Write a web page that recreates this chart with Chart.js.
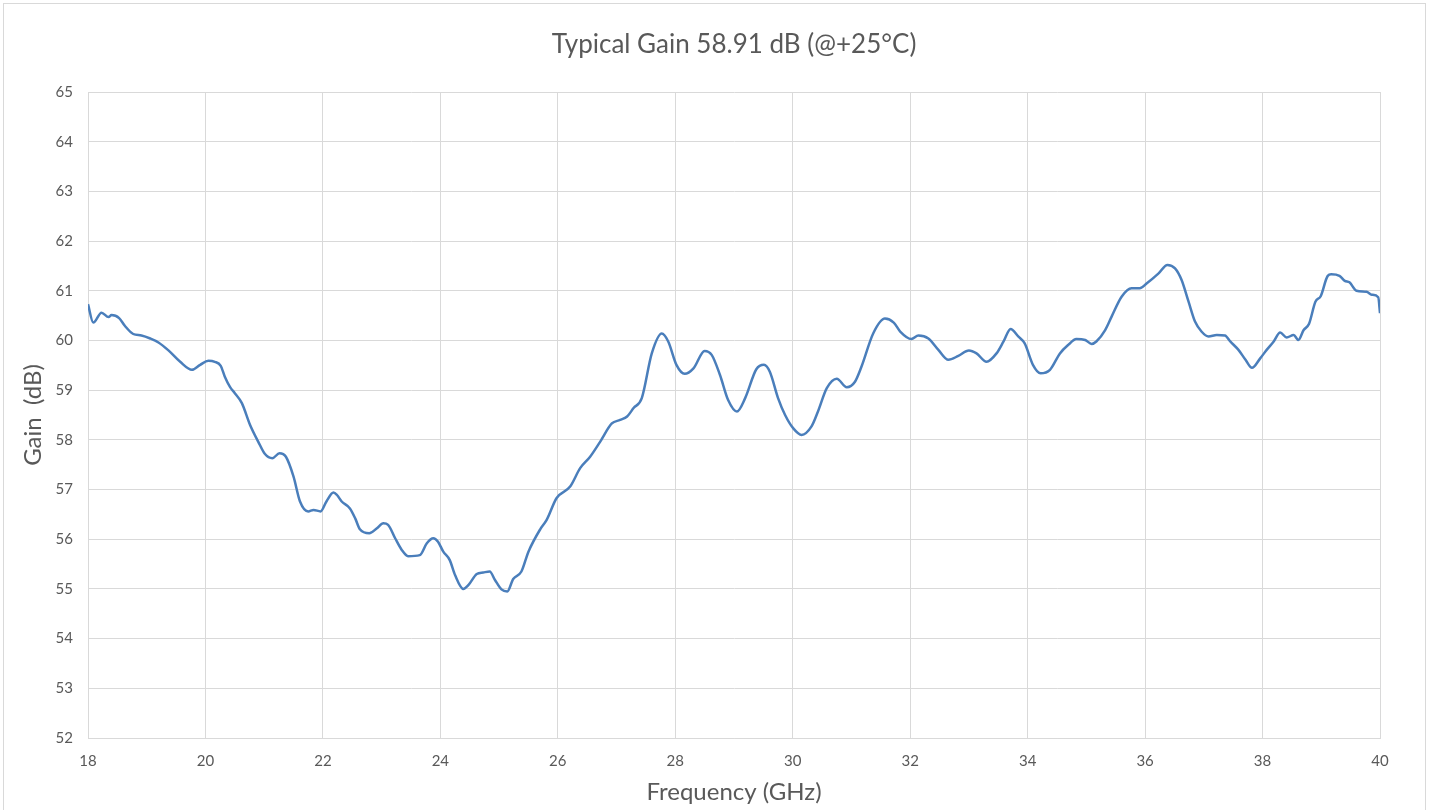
<!DOCTYPE html>
<html>
<head>
<meta charset="utf-8">
<script src="https://cdn.jsdelivr.net/npm/chart.js@4"></script>
<style>
  html, body { margin: 0; padding: 0; background: #fff; overflow: hidden; }
  #frame { position: absolute; left: 3px; top: 3px; width: 1423px; height: 820px; border: 1px solid #d9d9d9; box-sizing: border-box; }
  #wrap { position: absolute; left: 0; top: 0; width: 1434px; height: 810px; }
</style>
</head>
<body>
<div id="frame"></div>
<div id="wrap"><canvas id="c" width="1434" height="810"></canvas></div>
<script>
const titleText = 'Typical Gain 58.91 dB (@+25°C)';
const xTitle = 'Frequency (GHz)';
const yTitle = 'Gain  (dB)';

const freqs = [18.00,18.09,18.23,18.35,18.40,18.53,18.63,18.77,18.91,19.06,19.20,19.37,19.57,19.77,19.91,20.05,20.16,20.26,20.33,20.42,20.50,20.62,20.76,20.90,21.01,21.14,21.26,21.37,21.50,21.61,21.75,21.84,21.96,22.06,22.18,22.24,22.32,22.46,22.55,22.63,22.79,22.92,23.03,23.11,23.23,23.34,23.45,23.65,23.77,23.88,23.96,24.05,24.16,24.25,24.39,24.48,24.62,24.73,24.84,24.93,25.04,25.14,25.24,25.38,25.50,25.70,25.81,25.98,26.21,26.38,26.55,26.72,26.92,27.06,27.18,27.29,27.43,27.60,27.77,27.88,28.02,28.16,28.31,28.50,28.62,28.76,28.90,29.05,29.19,29.38,29.51,29.61,29.75,29.87,30.01,30.15,30.32,30.43,30.58,30.75,30.92,31.06,31.17,31.37,31.57,31.72,31.83,32.02,32.14,32.31,32.48,32.65,32.82,33.00,33.13,33.30,33.47,33.59,33.71,33.84,33.95,34.09,34.22,34.38,34.55,34.69,34.83,34.98,35.09,35.17,35.32,35.43,35.60,35.77,35.91,36.03,36.23,36.38,36.51,36.62,36.74,36.85,36.96,37.08,37.22,37.36,37.45,37.59,37.71,37.82,37.96,38.07,38.19,38.30,38.41,38.53,38.61,38.70,38.79,38.90,38.99,39.11,39.17,39.31,39.40,39.48,39.60,39.77,39.86,39.97,40.00];
const gains = [60.73,60.36,60.56,60.47,60.51,60.45,60.29,60.13,60.10,60.04,59.96,59.80,59.57,59.41,59.51,59.59,59.57,59.49,59.27,59.06,58.94,58.74,58.30,57.96,57.72,57.63,57.73,57.66,57.26,56.76,56.56,56.59,56.56,56.76,56.94,56.89,56.76,56.62,56.42,56.20,56.12,56.22,56.32,56.29,56.02,55.79,55.66,55.68,55.92,56.02,55.95,55.75,55.58,55.28,55.00,55.08,55.30,55.33,55.35,55.18,54.99,54.95,55.20,55.35,55.75,56.20,56.39,56.83,57.06,57.43,57.66,57.96,58.33,58.40,58.47,58.64,58.84,59.74,60.14,59.98,59.51,59.33,59.44,59.79,59.71,59.31,58.80,58.57,58.84,59.42,59.51,59.37,58.84,58.50,58.23,58.10,58.27,58.57,59.04,59.23,59.06,59.17,59.47,60.14,60.44,60.36,60.18,60.03,60.10,60.04,59.81,59.61,59.69,59.80,59.74,59.57,59.74,59.98,60.23,60.08,59.94,59.51,59.34,59.41,59.74,59.91,60.03,60.01,59.93,59.98,60.21,60.48,60.88,61.05,61.05,61.15,61.35,61.52,61.45,61.22,60.78,60.38,60.18,60.08,60.11,60.10,59.98,59.81,59.61,59.45,59.64,59.81,59.98,60.16,60.06,60.11,60.01,60.21,60.33,60.78,60.89,61.30,61.33,61.30,61.20,61.17,61.00,60.98,60.92,60.87,60.55];

const xMin = 18, xMax = 40, xStep = 2;
const yMin = 52, yMax = 65, yStep = 1;

const points = freqs.map((f, i) => ({ x: f, y: gains[i] }));
const FONT = 'Lato, "Open Sans", "Liberation Sans", sans-serif';
const TXT = '#595959';
const GRID = '#d9d9d9';

new Chart(document.getElementById('c'), {
  type: 'line',
  data: {
    datasets: [{
      data: points,
      borderColor: '#4a7ebb',
      borderWidth: 2.5,
      pointRadius: 0,
      fill: false,
      cubicInterpolationMode: 'monotone'
    }]
  },
  options: {
    responsive: false,
    animation: false,
    devicePixelRatio: 1,
    layout: { padding: { left: 0, right: 54, top: 0, bottom: 0 } },
    plugins: {
      legend: { display: false },
      tooltip: { enabled: false },
      title: {
        display: true,
        fullSize: false,
        text: titleText,
        color: TXT,
        font: { family: FONT, size: 26, weight: 'normal', lineHeight: 1.2 },
        padding: { top: 29.5, bottom: 31.3 }
      }
    },
    scales: {
      x: {
        type: 'linear',
        min: xMin, max: xMax,
        afterFit: (s) => { s.height = 72; },
        ticks: { stepSize: xStep, color: TXT, font: { family: FONT, size: 15 }, padding: 14, maxRotation: 0 },
        grid: { color: GRID, lineWidth: 1, drawTicks: false },
        border: { color: GRID },
        title: { display: true, text: xTitle, color: TXT, font: { family: FONT, size: 24 }, padding: { top: 0, bottom: 3 } }
      },
      y: {
        type: 'linear',
        min: yMin, max: yMax,
        afterFit: (s) => { s.width = 88; },
        ticks: { stepSize: yStep, color: TXT, font: { family: FONT, size: 15 }, padding: 15 },
        grid: { color: GRID, lineWidth: 1, drawTicks: false },
        border: { color: GRID },
        title: { display: true, text: yTitle, color: TXT, font: { family: FONT, size: 24 }, padding: { top: 19, bottom: 0 } }
      }
    }
  }
});
</script>
</body>
</html>
